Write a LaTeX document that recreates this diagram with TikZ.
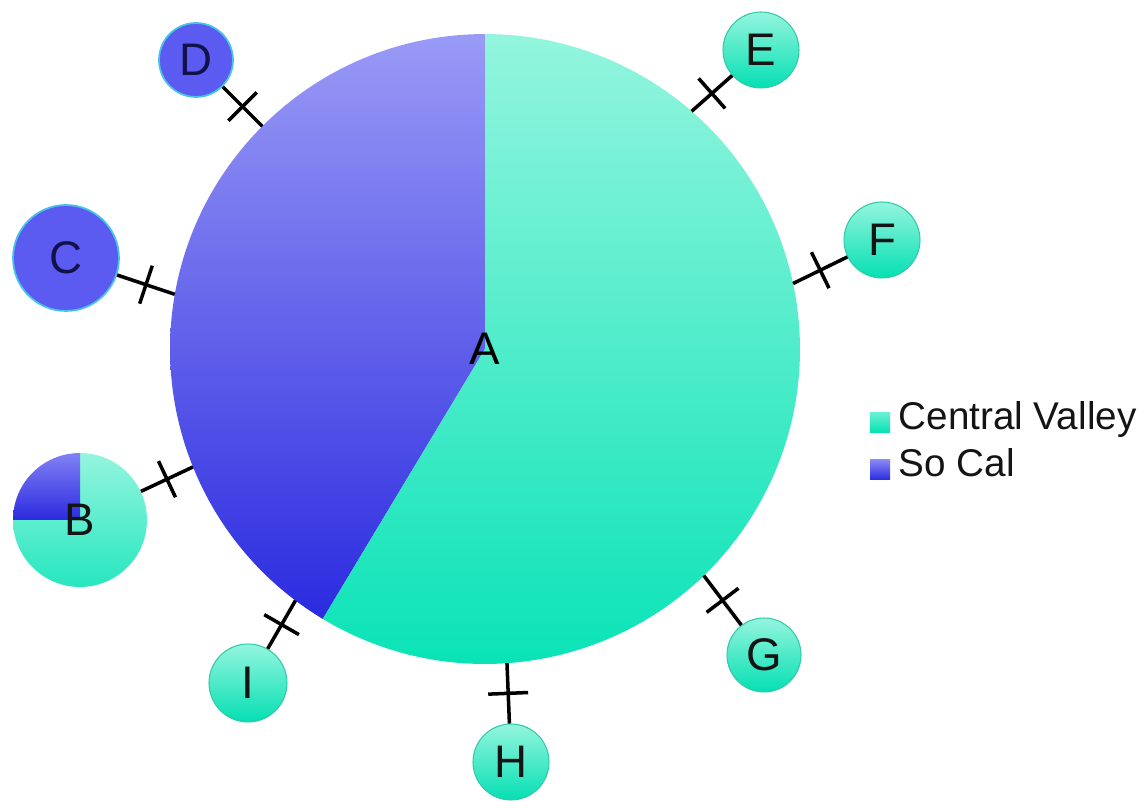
\documentclass[tikz,border=0pt]{standalone}
\usepackage{fontspec}
\setmainfont{Liberation Sans}
\usepackage{tikz}
\usetikzlibrary{positioning}
\usepackage{xcolor}
\definecolor{tealTop}{HTML}{94F5DE}
\definecolor{tealBot}{HTML}{00E2B4}
\definecolor{tealRim}{HTML}{33C9A6}
\definecolor{blueTop}{HTML}{9A9AF6}
\definecolor{blueBot}{HTML}{2B2BE0}
\definecolor{blueSolid}{HTML}{5B5BF2}
\definecolor{blueRim}{HTML}{45C4E6}
\definecolor{ink}{HTML}{141414}
\definecolor{navy}{HTML}{12124A}
\tikzset{
  hub/.style={circle, minimum size=12.6cm, inner sep=0pt, outer sep=0pt,
              font=\fontsize{26}{28}\selectfont, text=black},
  site/.style={circle, inner sep=0pt, font=\fontsize{26}{28}\selectfont,
               text=ink},
  siteT/.style={site, draw=tealRim, line width=0.6pt,
                top color=tealTop, bottom color=tealBot!90!tealRim},
  siteB/.style={site, draw=blueRim, line width=1pt, fill=blueSolid,
                text=navy},
  siteP/.style={site, minimum size=2.68cm},
  link/.style={line width=2pt, draw=black},
  tickbar/.style={fill=black, minimum width=2pt, minimum height=0.8cm,
                  inner sep=0pt, outer sep=0pt, sloped, midway},
  legsq/.style={rectangle, minimum size=0.4cm, inner sep=0pt},
  legtxt/.style={font=\fontsize{22}{24}\selectfont, inner sep=0pt,
                 text height=0.716em, text depth=0pt, text=ink},
}

\begin{document}
\begin{tikzpicture}[x=0.02cm, y=0.02cm]

  \useasboundingbox (0,0) rectangle (1139,801);

  % big pie
  \coordinate (Ac) at (485,452);
  \shade[top color=blueTop, bottom color=blueBot]
    (Ac) -- ++(90:6.3cm) arc[start angle=90, end angle=239, radius=6.3cm] -- cycle;
  \shade[top color=tealTop, bottom color=tealBot]
    (Ac) -- ++(239:6.3cm) arc[start angle=239, end angle=450, radius=6.3cm] -- cycle;
  \node[hub] (A) at (Ac) {A};

  % small pie
  \coordinate (Bc) at (80,281);
  \shade[top color=tealTop, bottom color=tealBot!85!white]
    (Bc) -- ++(180:1.34cm) arc[start angle=180, end angle=450, radius=1.34cm] -- cycle;
  \shade[top color=blueTop!60!blueSolid, bottom color=blueBot]
    (Bc) -- ++(90:1.34cm) arc[start angle=90, end angle=180, radius=1.34cm] -- cycle;
  \node[siteP] (B) at (Bc) {B};

  \node[siteB, minimum size=2.12cm] (C) at (66,543) {C};
  \node[siteB, minimum size=1.48cm] (D) at (196,741) {D};
  \node[siteT, minimum size=1.52cm] (E) at (761,751) {E};
  \node[siteT, minimum size=1.52cm] (F) at (882,561) {F};
  \node[siteT, minimum size=1.48cm] (G) at (764,146) {G};
  \node[siteT, minimum size=1.52cm] (H) at (511,39) {H};
  \node[siteT, minimum size=1.56cm] (I) at (248,118) {I};

  % links
  \draw[link] (B) -- node[tickbar]{} (A.202.5);
  \draw[link] (C) -- node[tickbar]{} (A.170);
  \draw[link] (D) -- node[tickbar]{} (A.135);
  \draw[link] (E) -- node[tickbar]{} (A.49);
  \draw[link] (F) -- node[tickbar]{} (A.12.5);
  \draw[link] (G) -- node[tickbar]{} (A.-46);
  \draw[link] (H) -- node[tickbar]{} (A.-86);
  \draw[link] (I) -- node[tickbar]{} (A.233.8);

  % legend
  \node[legsq, top color=tealTop!70!tealBot, bottom color=tealBot] (kCV) at (880,378) {};
  \node[legtxt, right=0.16cm of kCV] (tCV) {Central Valley};
  \node[legsq, top color=blueTop!70!blueSolid, bottom color=blueBot] (kSC) at (880,331) {};
  \node[legtxt, right=0.16cm of kSC] (tSC) {So Cal};

\end{tikzpicture}
\end{document}
